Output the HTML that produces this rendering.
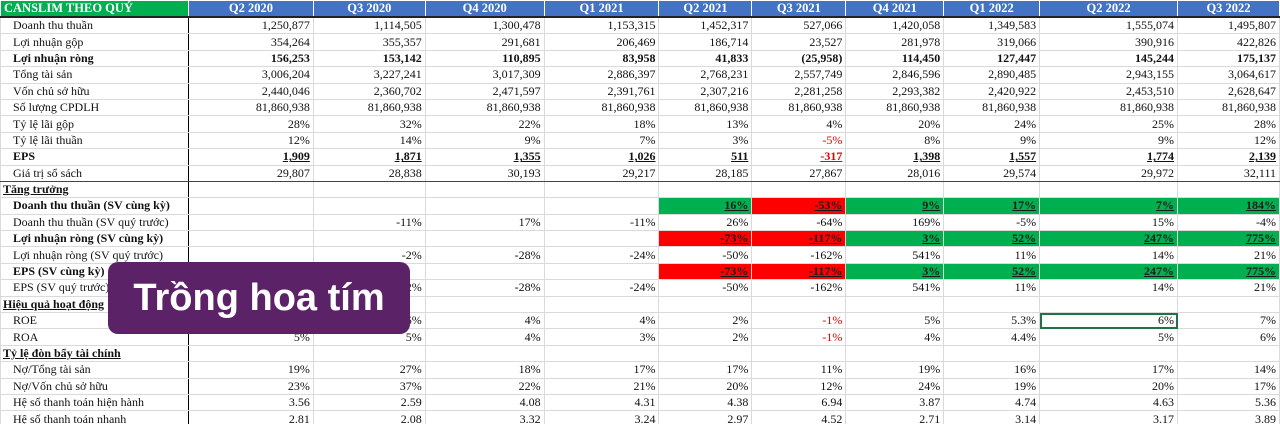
<!DOCTYPE html>
<html><head><meta charset="utf-8">
<style>
html,body{margin:0;padding:0;width:1280px;height:424px;overflow:hidden;background:#fff;}
body{font-family:"Liberation Serif","Noto Serif CJK SC",serif;font-size:12px;color:#111;position:relative;}
table{border-collapse:collapse;table-layout:fixed;position:absolute;left:0;top:0;}
td{height:15.4px;padding:0 3px;border:1px solid #dadada;white-space:nowrap;overflow:hidden;text-align:right;line-height:15px;}
td.lab{text-align:left;padding-left:12px;border-right:1px solid #000;}
td.sec{padding-left:2px;font-weight:bold;text-decoration:underline;}
tr.hd td{background:#4472C4;color:#fff;font-weight:bold;text-align:center;height:15px;border-color:#fff;border-bottom:2px solid #222;font-size:12.5px;}
tr.hd td.first{background:#00B050;text-align:left;padding-left:3px;}
tr.b td{font-weight:bold;}
tr.u td:not(.lab){text-decoration:underline;}
tr.endsec td{border-bottom:1px solid #444;}
td.g{background:#00B050;font-weight:bold;text-decoration:underline;color:#1a1a1a;}
td.r{background:#FF0000;font-weight:bold;text-decoration:underline;color:#1a1a1a;}
td.neg{color:#e00000;}
td.sel{outline:2px solid #217346;outline-offset:-2px;}
#badge{position:absolute;left:108px;top:262px;width:302px;height:72px;background:#5c2268;border-radius:10px;color:#fff;font-family:"Liberation Sans","DejaVu Sans",sans-serif;font-size:38px;font-weight:bold;line-height:72px;text-align:center;}
</style></head><body>
<table id="tbl">
<colgroup>
<col style="width:188px"><col style="width:125px"><col style="width:112px"><col style="width:119px"><col style="width:115px"><col style="width:93px"><col style="width:94px"><col style="width:98px"><col style="width:96px"><col style="width:138px"><col style="width:102px">
</colgroup>
<tbody id="tb"></tbody>
</table>
<div id="badge">Trồng hoa tím</div>
<script>
const quarters=["Q2 2020","Q3 2020","Q4 2020","Q1 2021","Q2 2021","Q3 2021","Q4 2021","Q1 2022","Q2 2022","Q3 2022"];
const doanhThu=["1,250,877","1,114,505","1,300,478","1,153,315","1,452,317","527,066","1,420,058","1,349,583","1,555,074","1,495,807"];
const loiNhuanGop=["354,264","355,357","291,681","206,469","186,714","23,527","281,978","319,066","390,916","422,826"];
const loiNhuanRong=["156,253","153,142","110,895","83,958","41,833","(25,958)","114,450","127,447","145,244","175,137"];
const tongTaiSan=["3,006,204","3,227,241","3,017,309","2,886,397","2,768,231","2,557,749","2,846,596","2,890,485","2,943,155","3,064,617"];
const vonCSH=["2,440,046","2,360,702","2,471,597","2,391,761","2,307,216","2,281,258","2,293,382","2,420,922","2,453,510","2,628,647"];
const soLuong=["81,860,938","81,860,938","81,860,938","81,860,938","81,860,938","81,860,938","81,860,938","81,860,938","81,860,938","81,860,938"];
const laiGop=["28%","32%","22%","18%","13%","4%","20%","24%","25%","28%"];
const laiThuan=["12%","14%","9%","7%","3%","-5%","8%","9%","9%","12%"];
const eps=["1,909","1,871","1,355","1,026","511","-317","1,398","1,557","1,774","2,139"];
const giaTriSoSach=["29,807","28,838","30,193","29,217","28,185","27,867","28,016","29,574","29,972","32,111"];
const dtCungKy=["","","","","16%","-53%","9%","17%","7%","184%"];
const dtQuyTruoc=["","-11%","17%","-11%","26%","-64%","169%","-5%","15%","-4%"];
const lnCungKy=["","","","","-73%","-117%","3%","52%","247%","775%"];
const lnQuyTruoc=["","-2%","-28%","-24%","-50%","-162%","541%","11%","14%","21%"];
const epsCungKy=["","","","","-73%","-117%","3%","52%","247%","775%"];
const epsQuyTruoc=["","-2%","-28%","-24%","-50%","-162%","541%","11%","14%","21%"];
const roe=["6%","6%","4%","4%","2%","-1%","5%","5.3%","6%","7%"];
const roa=["5%","5%","4%","3%","2%","-1%","4%","4.4%","5%","6%"];
const noTongTS=["19%","27%","18%","17%","17%","11%","19%","16%","17%","14%"];
const noVCSH=["23%","37%","22%","21%","20%","12%","24%","19%","20%","17%"];
const hsHienHanh=["3.56","2.59","4.08","4.31","4.38","6.94","3.87","4.74","4.63","5.36"];
const hsNhanh=["2.81","2.08","3.32","3.24","2.97","4.52","2.71","3.14","3.17","3.89"];

const rows=[
 {l:"Doanh thu thuần",v:doanhThu},
 {l:"Lợi nhuận gộp",v:loiNhuanGop},
 {l:"Lợi nhuận ròng",v:loiNhuanRong,cls:"b"},
 {l:"Tổng tài sản",v:tongTaiSan},
 {l:"Vốn chủ sở hữu",v:vonCSH},
 {l:"Số lượng CPDLH",v:soLuong},
 {l:"Tỷ lệ lãi gộp",v:laiGop},
 {l:"Tỷ lệ lãi thuần",v:laiThuan,neg:true},
 {l:"EPS",v:eps,cls:"b u",neg:true},
 {l:"Giá trị sổ sách",v:giaTriSoSach,cls:"endsec"},
 {sec:"Tăng trưởng"},
 {l:"Doanh thu thuần (SV cùng kỳ)",v:dtCungKy,cls:"b",color:true},
 {l:"Doanh thu thuần (SV quý trước)",v:dtQuyTruoc},
 {l:"Lợi nhuận ròng (SV cùng kỳ)",v:lnCungKy,cls:"b",color:true},
 {l:"Lợi nhuận ròng (SV quý trước)",v:lnQuyTruoc},
 {l:"EPS (SV cùng kỳ)",v:epsCungKy,cls:"b",color:true},
 {l:"EPS (SV quý trước)",v:epsQuyTruoc},
 {sec:"Hiệu quả hoạt động"},
 {l:"ROE",v:roe,neg:true,sel:8},
 {l:"ROA",v:roa,neg:true},
 {sec:"Tỷ lệ đòn bẩy tài chính"},
 {l:"Nợ/Tổng tài sản",v:noTongTS},
 {l:"Nợ/Vốn chủ sở hữu",v:noVCSH},
 {l:"Hệ số thanh toán hiện hành",v:hsHienHanh},
 {l:"Hệ số thanh toán nhanh",v:hsNhanh}
];
const tb=document.getElementById('tb');
const hr=document.createElement('tr');hr.className='hd';


const h0=document.createElement('td');h0.className='first';h0.textContent='CANSLIM THEO QUÝ';


hr.appendChild(h0);
quarters.forEach(q=>{const c=document.createElement('td');c.textContent=q;


hr.appendChild(c);});
tb.appendChild(hr);
rows.forEach(r=>{
 const tr=document.createElement('tr');
 
 
 if(r.cls)tr.className=r.cls;
 const lab=document.createElement('td');
 lab.className='lab'+(r.sec?' sec':'');
 lab.textContent=r.sec||r.l;
 
 
 tr.appendChild(lab);
 for(let i=0;i<10;i++){
  const c=document.createElement('td');
  const v=r.v?r.v[i]:'';
  c.textContent=v;
  if(r.color&&v){c.className=(parseFloat(v)<0)?'r':'g';}
  else if(r.neg&&v.startsWith('-'))c.className='neg';
  if(r.sel===i)c.classList.add('sel');
  
  
  tr.appendChild(c);
 }
 tb.appendChild(tr);
});
</script>
</body></html>
